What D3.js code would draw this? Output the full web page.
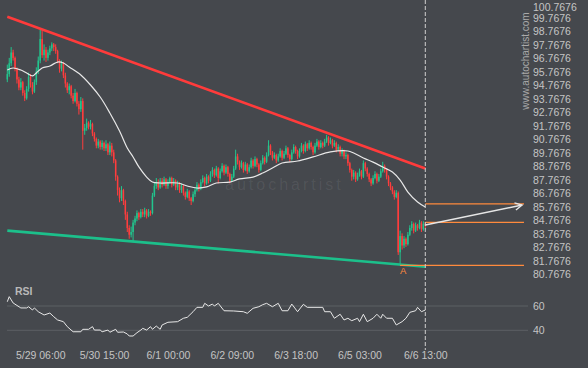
<!DOCTYPE html>
<html><head><meta charset="utf-8">
<script src="https://cdn.jsdelivr.net/npm/d3@7"></script>
<style>
html,body{margin:0;padding:0;background:#45484d;}
svg{display:block;font-family:"Liberation Sans",Arial,sans-serif;}
</style>
</head><body>
<svg id="chart" width="588" height="368"></svg>
<script>
// ---------- data ----------
const startTime = "2021-05-28T13:00";
const firstOpen = 95.2;
const closes = [95.6,96.4,97.2,96.8,96.0,95.2,94.6,95.0,94.2,93.8,
94.5,95.4,94.8,94.3,95.0,95.8,96.6,98.2,97.0,97.4,
96.8,97.2,97.5,97.8,97.6,97.3,96.6,96.0,96.4,95.5,
94.9,94.4,94.7,94.0,93.6,94.2,93.4,93.0,93.6,91.4,
91.6,92.0,91.7,91.9,91.2,90.8,90.3,90.6,90.2,90.5,
90.1,90.4,89.8,90.3,89.8,89.2,88.0,87.0,86.4,87.0,
86.2,85.2,84.2,83.7,83.9,84.6,84.9,85.3,85.0,85.4,
85.2,85.5,85.1,85.4,85.3,86.6,87.3,87.6,87.2,87.7,
87.4,87.8,87.3,87.6,87.9,87.4,87.7,87.2,87.5,87.0,
87.3,86.8,86.5,86.9,86.4,86.2,86.7,87.0,87.4,87.1,
87.6,87.9,87.5,88.0,87.7,88.2,88.5,88.1,88.6,87.9,
88.4,88.8,88.3,88.7,88.2,87.7,88.0,88.6,89.5,89.1,
88.7,89.0,88.5,88.9,88.4,88.7,89.2,88.8,89.3,88.9,
88.5,89.0,89.4,89.1,89.6,90.3,89.8,89.4,89.6,89.2,
89.5,89.9,89.4,89.7,90.1,89.6,89.3,89.8,90.2,89.9,
89.5,89.9,90.3,89.9,90.4,90.1,90.5,90.2,89.8,90.3,
90.6,90.2,90.5,90.3,90.6,90.9,90.5,90.7,90.3,90.5,
90.0,90.2,89.7,89.9,89.5,89.6,89.0,88.5,88.0,88.3,
87.8,88.1,88.4,88.0,89.0,88.6,88.2,87.8,87.5,87.9,
88.2,87.7,88.0,88.4,88.8,88.5,88.0,87.5,87.2,86.9,
86.5,86.8,82.4,83.6,82.9,83.4,83.0,83.7,84.2,84.5,
84.0,84.4,84.2,84.6,84.1,84.5,84.4];
const highs = [96.3,96.8,97.6,97.4,96.9,96.1,95.4,95.3,95.1,94.4,
94.7,95.7,95.6,95.0,95.2,96.1,96.9,98.87,98.85,97.8,
97.6,97.4,97.7,97.95,97.9,97.8,97.4,96.7,96.6,96.5,
95.7,95.0,94.9,94.8,94.2,94.5,94.3,93.6,93.9,93.8,
91.9,92.3,92.1,92.2,92.0,91.3,90.9,90.8,90.7,90.7,
90.6,90.7,90.5,90.6,90.5,90.0,89.3,88.1,87.2,87.3,
87.1,86.3,85.4,84.4,84.3,84.8,85.1,85.5,85.4,85.6,
85.6,85.7,85.6,85.6,85.5,86.8,87.6,87.9,87.8,87.9,
87.9,88.0,87.9,87.8,88.0,88.0,87.9,87.8,87.7,87.6,
87.5,87.4,86.9,87.1,87.0,86.5,86.9,87.2,87.6,87.5,
87.8,88.1,88.0,88.2,88.1,88.4,88.7,88.6,88.8,88.7,
88.6,89.0,88.9,88.9,88.8,88.3,88.2,88.8,90.0,89.7,
89.2,89.2,89.1,89.1,89.0,88.9,89.4,89.3,89.5,89.4,
89.0,89.2,89.6,89.5,89.8,90.7,90.4,89.9,89.8,89.7,
89.7,90.1,90.0,89.9,90.3,90.2,89.7,90.0,90.4,90.3,
90.0,90.1,90.5,90.4,90.6,90.5,90.7,90.6,90.3,90.5,
90.8,90.7,90.7,90.6,90.8,91.1,91.0,90.9,90.8,90.7,
90.6,90.4,90.3,90.1,90.0,89.8,89.7,89.1,88.6,88.5,
88.4,88.3,88.6,88.5,89.2,89.1,88.7,88.3,87.9,88.1,
88.4,88.3,88.2,88.6,89.1,88.9,88.6,88.1,87.6,87.3,
87.0,87.0,86.9,84.0,83.8,83.6,83.5,83.9,84.4,84.7,
84.6,84.6,84.5,84.8,84.7,84.7,84.6];
const lows = [95.0,95.4,96.2,96.6,95.8,94.9,94.4,94.4,94.0,93.6,
93.7,94.3,94.6,94.1,94.2,94.8,95.6,96.4,96.8,96.6,
96.5,96.6,97.0,97.3,97.3,97.1,96.4,95.7,95.8,95.3,
94.6,94.2,94.1,93.8,93.4,93.5,93.2,92.6,92.8,90.0,
91.1,91.4,91.5,91.5,91.0,90.6,90.1,90.1,90.0,90.0,
89.9,89.9,89.6,89.6,89.5,89.0,87.7,86.6,86.1,86.2,
85.9,84.8,83.9,83.4,83.5,83.2,84.4,84.7,84.8,84.9,
85.0,85.0,84.9,85.0,85.1,85.2,86.5,87.1,87.0,87.1,
87.2,87.3,87.1,87.1,87.5,87.2,87.3,87.0,87.0,86.8,
86.8,86.6,86.3,86.4,86.2,85.9,86.1,86.5,86.9,86.9,
87.0,87.5,87.3,87.4,87.5,87.6,88.0,87.9,88.0,87.5,
87.8,88.3,88.1,88.2,88.0,87.5,87.6,87.9,88.5,88.9,
88.5,88.6,88.3,88.4,88.2,88.3,88.6,88.6,88.7,88.7,
88.3,88.4,88.9,88.9,89.0,89.5,89.6,89.2,89.3,89.0,
89.1,89.4,89.2,89.3,89.6,89.4,89.1,89.2,89.7,89.7,
89.3,89.4,89.8,89.7,89.8,89.9,90.0,90.0,89.6,89.7,
90.2,90.0,90.1,90.1,90.2,90.5,90.3,90.4,90.1,90.2,
89.8,89.9,89.5,89.5,89.3,89.3,88.8,88.3,87.7,87.8,
87.6,87.7,88.0,87.8,87.9,88.4,88.0,87.6,87.3,87.4,
87.8,87.5,87.6,87.9,88.3,88.3,87.8,87.3,87.0,86.7,
86.3,86.4,82.2,81.43,82.6,82.7,82.8,82.9,83.6,84.0,
83.8,83.9,84.0,84.1,83.9,84.0,84.2];

// moving average (candle index, value)
const maIdx = [0,3,7,10,13,15,18,22,26,29,32,38,43,48,53,58,62,65,68,72,75,79,88,93,98,103,108,115,120,127,132,137,142,150,158,167,176,179,184,189,194,199,203,207,212,216];
const maVal = [95.90,96.05,95.90,95.68,95.46,95.68,96.05,96.20,96.49,96.42,96.12,95.53,94.79,93.90,92.72,91.38,90.12,89.46,88.72,87.97,87.60,87.53,87.53,87.31,87.16,87.24,87.53,87.60,87.83,87.97,88.27,88.64,89.01,89.16,89.46,89.83,89.90,89.75,89.38,89.08,88.71,88.34,87.75,86.86,86.12,85.75];

// RSI (candle index, value)
const rsiIdx = [0,1,3,7,10,11,13,14,16,19,22,24,26,29,31,34,38,39,42,44,45,48,49,52,53,56,57,60,62,63,65,67,69,70,72,74,75,77,79,80,83,88,91,93,96,98,101,102,104,106,107,109,112,117,122,124,127,130,132,134,137,140,142,145,147,150,153,155,163,164,167,169,172,174,176,178,181,182,184,186,189,191,193,194,196,199,201,204,206,208,211,212,214,216];
const rsiVal = [63.5,67.7,62.5,58.4,58.4,59.4,56.7,58.4,55.3,52.6,54.2,51.2,48.5,47.1,43.0,38.8,38.8,40.8,40.8,43.0,40.2,40.2,38.8,40.2,38.4,40.8,38.4,38.6,37.0,35.3,35.3,38.0,40.2,41.6,40.2,43.0,40.8,43.5,40.8,44.4,46.6,47.1,49.9,50.7,55.3,58.9,58.9,62.2,60.0,61.6,60.0,62.2,56.1,55.9,55.3,54.0,58.1,59.4,61.1,62.2,59.4,62.2,56.1,56.1,61.6,55.3,61.4,58.9,58.9,55.3,55.3,49.9,53.2,48.5,49.9,47.9,49.9,47.1,53.2,47.1,49.9,53.2,49.9,53.2,49.9,49.9,44.4,47.1,49.9,54.8,56.1,58.9,55.3,56.7];

const priceTicks = [100.7676,99.7676,98.7676,97.7676,96.7676,95.7676,94.7676,93.7676,92.7676,91.7676,90.7676,89.7676,88.7676,87.7676,86.7676,85.7676,84.7676,83.7676,82.7676,81.7676,80.7676];
const rsiTicks = [60, 40];
const timeTicks = ["2021-05-29T06:00","2021-05-30T15:00","2021-06-01T00:00","2021-06-02T09:00","2021-06-03T18:00","2021-06-05T03:00","2021-06-06T13:00"];

// pattern
const resistanceIdx = [0, 216], resistanceVal = [99.85, 88.60];
const supportIdx = [0, 216], supportVal = [84.00, 81.33];
const levelVal = [85.98, 84.62, 81.43];
const levelFrom = [216, 216, 203];
const levelTo = [267, 267, 267];
const arrowIdx = [216, 266], arrowVal = [84.42, 85.90];
const pointIdx = 203, pointVal = 81.43, pointLabel = "A";
const lastIdx = 216;

// ---------- drawing ----------
const parse = d3.timeParse("%Y-%m-%dT%H:%M");
const t0 = parse(startTime);
const tAt = i => d3.timeHour.offset(t0, i);
const svg = d3.select("#chart");

const x = d3.scaleTime().domain([t0, tAt(lastIdx)]).range([7.3, 425.3]);
const y = d3.scaleLinear().domain([80.7676, 100.7676]).range([274.3, 4.3]);
const yr = d3.scaleLinear().domain([40, 60]).range([330.3, 306]);

const candles = closes.map((c, i) => ({
  t: tAt(i), o: i === 0 ? firstOpen : closes[i-1], c, h: highs[i], l: lows[i]
}));

// watermark
svg.append("text").attr("x", 225).attr("y", 190)
  .attr("font-size", 16).attr("letter-spacing", 3)
  .attr("fill", "rgba(255,255,255,0.075)").text("autochartist");

// RSI grid
svg.append("g").selectAll("line").data(rsiTicks).join("line")
  .attr("x1", 7).attr("x2", 528)
  .attr("y1", d => yr(d)).attr("y2", d => yr(d))
  .attr("stroke", "#5c6065").attr("stroke-width", 1);

// candles
const up = "#22c58e", dn = "#ff3d3d";
const cg = svg.append("g");
cg.selectAll("line").data(candles).join("line")
  .attr("x1", d => x(d.t)).attr("x2", d => x(d.t))
  .attr("y1", d => y(d.h)).attr("y2", d => y(d.l))
  .attr("stroke", d => d.c >= d.o ? up : dn).attr("stroke-width", 1);
cg.selectAll("rect").data(candles).join("rect")
  .attr("x", d => x(d.t) - 0.75).attr("width", 1.5)
  .attr("y", d => y(Math.max(d.o, d.c)))
  .attr("height", d => Math.max(1, Math.abs(y(d.o) - y(d.c))))
  .attr("fill", d => d.c >= d.o ? up : dn);

// moving average
const maLine = d3.line().x(d => x(tAt(d[0]))).y(d => y(d[1])).curve(d3.curveCatmullRom);
svg.append("path").datum(maIdx.map((v, i) => [v, maVal[i]]))
  .attr("d", maLine).attr("fill", "none")
  .attr("stroke", "#e8e8e8").attr("stroke-width", 1.2);

// trend lines
const tl = d3.line().x(d => x(tAt(d[0]))).y(d => y(d[1]));
svg.append("path").datum(resistanceIdx.map((v, i) => [v, resistanceVal[i]]))
  .attr("d", tl).attr("stroke", "#ff3b3b").attr("stroke-width", 2.6).attr("fill", "none");
svg.append("path").datum(supportIdx.map((v, i) => [v, supportVal[i]]))
  .attr("d", tl).attr("stroke", "#1cc08b").attr("stroke-width", 2.6).attr("fill", "none");

// levels
const orange = "#ff8a3d";
svg.append("g").selectAll("line").data(levelVal).join("line")
  .attr("x1", (d, i) => x(tAt(levelFrom[i]))).attr("x2", (d, i) => x(tAt(levelTo[i])))
  .attr("y1", d => y(d)).attr("y2", d => y(d))
  .attr("stroke", orange).attr("stroke-width", 1.3);

// now line
svg.append("line").attr("x1", x(tAt(lastIdx))).attr("x2", x(tAt(lastIdx)))
  .attr("y1", 0).attr("y2", 350)
  .attr("stroke", "#cfcfcf").attr("stroke-width", 1).attr("stroke-dasharray", "4,2");

// arrow
svg.append("defs").append("marker").attr("id", "ah")
  .attr("viewBox", "-10 -6 12 12").attr("refX", 0).attr("refY", 0)
  .attr("markerWidth", 12).attr("markerHeight", 12).attr("markerUnits", "userSpaceOnUse")
  .attr("orient", "auto")
  .append("path").attr("d", "M-7,-3.6L0,0L-7,3.6").attr("fill", "none")
  .attr("stroke", "#e6e6e6").attr("stroke-width", 1.4);
svg.append("path").datum(arrowIdx.map((v, i) => [v, arrowVal[i]]))
  .attr("d", tl).attr("stroke", "#e6e6e6").attr("stroke-width", 1.4)
  .attr("fill", "none").attr("marker-end", "url(#ah)");

// point label
svg.append("text").attr("x", x(tAt(pointIdx)) + 3).attr("y", y(pointVal) + 8.8)
  .attr("text-anchor", "middle").attr("font-size", 9.5).attr("fill", orange).text(pointLabel);

// RSI line
const rl = d3.line().x(d => x(tAt(d[0]))).y(d => yr(d[1]));
svg.append("path").datum(rsiIdx.map((v, i) => [v, rsiVal[i]]))
  .attr("d", rl).attr("fill", "none").attr("stroke", "#e8e8e8").attr("stroke-width", 1);

svg.append("text").attr("x", 15).attr("y", 295).attr("font-size", 10.5)
  .attr("font-weight", "bold").attr("fill", "#b9b9b9").text("RSI");

// axes
const axisColor = "#c4c4c4";
function style(g) {
  g.select(".domain").remove();
  g.selectAll(".tick line").remove();
  g.selectAll("text").attr("fill", axisColor).attr("font-size", 10.5)
    .attr("font-family", "Liberation Sans, Arial, sans-serif");
}
const priceAxis = svg.append("g").attr("transform", "translate(533,0)")
  .call(d3.axisRight(y).tickValues(priceTicks).tickFormat(d3.format(".4f")).tickSize(0).tickPadding(0))
  .call(style);
// keep the top label inside the picture
priceAxis.selectAll(".tick text").filter(d => d === priceTicks[0]).attr("dy", "0.55em");
svg.append("g").attr("transform", "translate(533,0)")
  .call(d3.axisRight(yr).tickValues(rsiTicks).tickSize(0).tickPadding(0))
  .call(style);
svg.append("g").attr("transform", "translate(0,349)")
  .call(d3.axisBottom(x).tickValues(timeTicks.map(parse)).tickFormat(d3.timeFormat("%-m/%-d %H:%M")).tickSize(0).tickPadding(3))
  .call(style);

// vertical site text
svg.append("text").attr("transform", "translate(528.5,61) rotate(-90)")
  .attr("text-anchor", "middle").attr("font-size", 10).attr("fill", "#a9a9a9")
  .text("www.autochartist.com");
</script>
</body></html>
